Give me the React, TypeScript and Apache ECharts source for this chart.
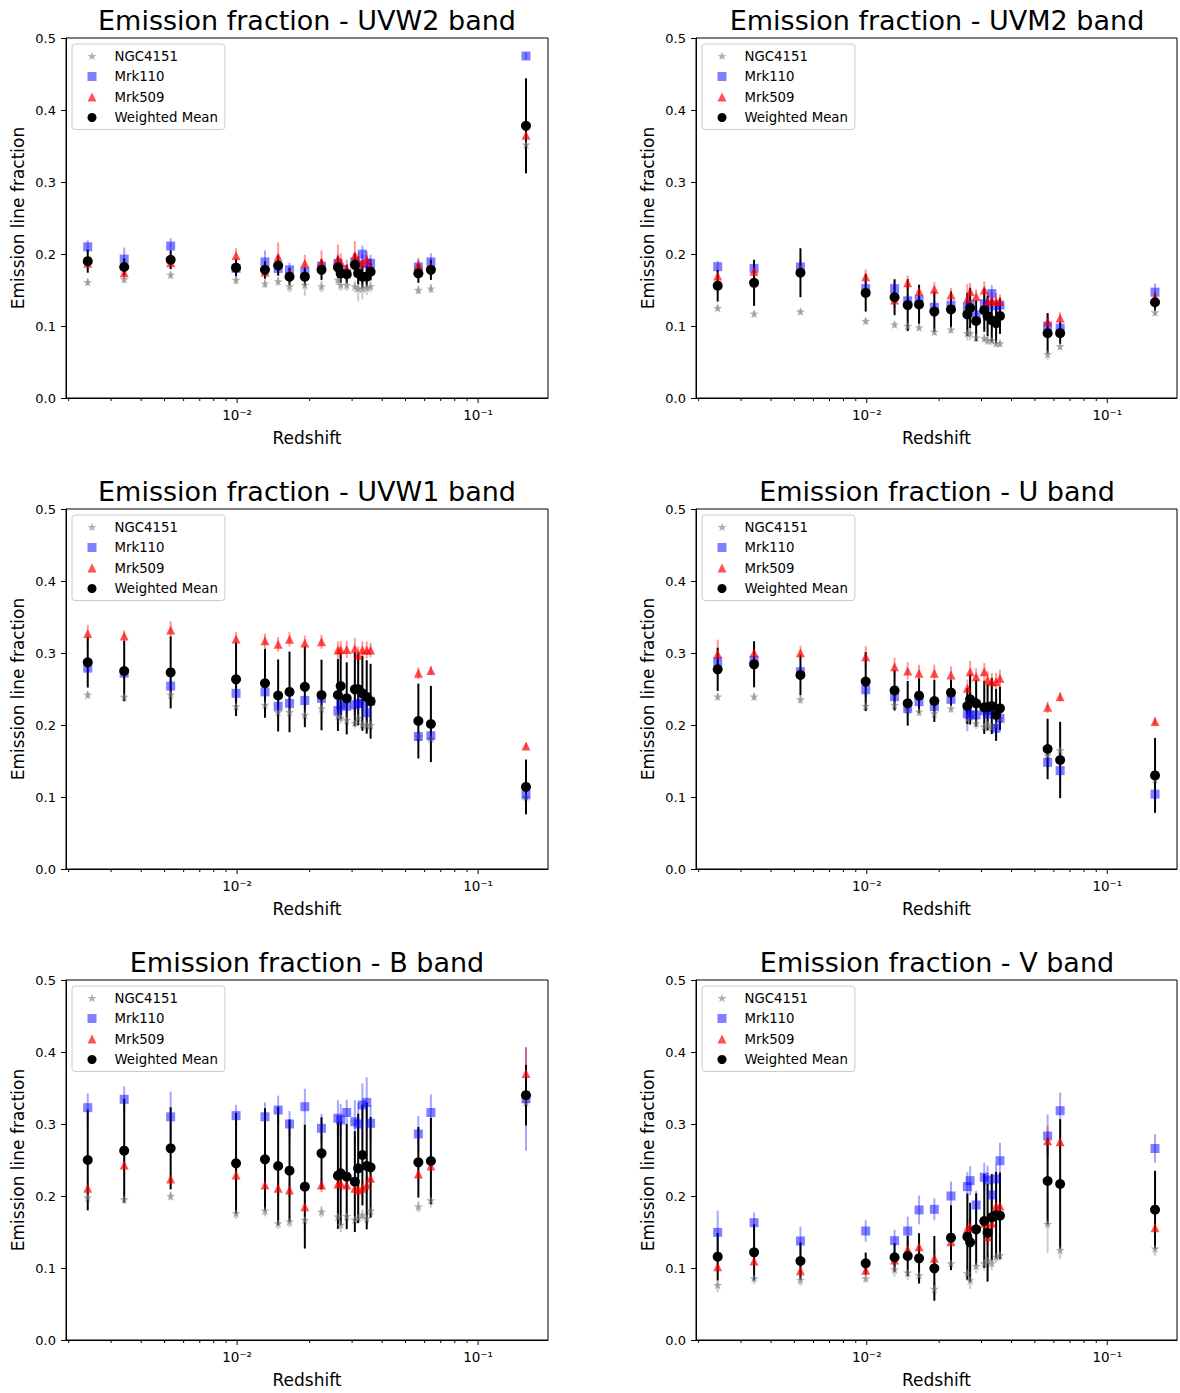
import React, { useEffect, useRef } from "react";
import * as echarts from "echarts";

// ---------- data ----------
const redshift = [0.0024, 0.0034, 0.0053, 0.0099, 0.01305, 0.0148, 0.0165, 0.0191, 0.0224, 0.0262, 0.0269, 0.0285, 0.0308, 0.0318, 0.0331, 0.0345, 0.0358, 0.0565, 0.0637, 0.158];

const bands = ["UVW2", "UVM2", "UVW1", "U", "B", "V"];
const seriesNames = ["NGC4151", "Mrk110", "Mrk509", "Weighted Mean"];

// UVW2
const ngcUVW2 = [0.161, 0.165, 0.171, 0.164, 0.159, 0.162, 0.155, 0.157, 0.155, 0.164, 0.157, 0.157, 0.155, 0.152, 0.152, 0.153, 0.155, 0.150, 0.152, 0.352];
const ngcErrUVW2 = [0.005, 0.005, 0.005, 0.006, 0.006, 0.006, 0.008, 0.015, 0.008, 0.007, 0.008, 0.008, 0.008, 0.018, 0.015, 0.01, 0.008, 0.006, 0.006, 0.006];
const m110UVW2 = [0.210, 0.193, 0.211, 0.180, 0.189, 0.180, 0.178, 0.1755, 0.183, 0.187, 0.178, 0.173, 0.189, 0.185, 0.1998, 0.187, 0.187, 0.182, 0.189, 0.475];
const m110ErrUVW2 = [0.009, 0.016, 0.011, 0.01, 0.016, 0.01, 0.01, 0.01, 0.01, 0.012, 0.01, 0.012, 0.012, 0.012, 0.012, 0.012, 0.012, 0.01, 0.012, 0.005];
const m509UVW2 = [0.187, 0.174, 0.188, 0.198, 0.175, 0.196, 0.172, 0.187, 0.189, 0.193, 0.189, 0.180, 0.198, 0.190, 0.187, 0.192, 0.182, 0.185, 0.182, 0.365];
const m509ErrUVW2 = [0.005, 0.008, 0.008, 0.01, 0.01, 0.02, 0.01, 0.012, 0.016, 0.02, 0.012, 0.012, 0.02, 0.012, 0.012, 0.012, 0.012, 0.01, 0.01, 0.005];
const meanUVW2 = [0.190, 0.182, 0.192, 0.181, 0.178, 0.184, 0.1685, 0.1685, 0.178, 0.1815, 0.173, 0.172, 0.185, 0.173, 0.1685, 0.1685, 0.1755, 0.173, 0.178, 0.378];
const meanErrUVW2 = [0.016, 0.012, 0.013, 0.012, 0.012, 0.014, 0.012, 0.012, 0.014, 0.015, 0.013, 0.013, 0.016, 0.015, 0.016, 0.014, 0.012, 0.013, 0.014, 0.066];

// UVM2
const ngcUVM2 = [0.125, 0.117, 0.120, 0.107, 0.102, 0.100, 0.098, 0.092, 0.095, 0.090, 0.090, 0.084, 0.083, 0.080, 0.080, 0.076, 0.076, 0.061, 0.072, 0.119];
const ngcErrUVM2 = [0.004, 0.004, 0.004, 0.004, 0.004, 0.004, 0.004, 0.005, 0.005, 0.01, 0.01, 0.006, 0.006, 0.006, 0.006, 0.005, 0.005, 0.008, 0.006, 0.005];
const m110UVM2 = [0.1824, 0.180, 0.182, 0.152, 0.152, 0.135, 0.136, 0.126, 0.129, 0.126, 0.130, 0.115, 0.131, 0.128, 0.145, 0.128, 0.129, 0.100, 0.097, 0.147];
const m110ErrUVM2 = [0.008, 0.01, 0.01, 0.01, 0.01, 0.008, 0.01, 0.01, 0.01, 0.01, 0.01, 0.01, 0.01, 0.01, 0.012, 0.01, 0.01, 0.012, 0.01, 0.012];
const m509UVM2 = [0.1694, 0.176, 0.178, 0.1685, 0.136, 0.160, 0.148, 0.151, 0.143, 0.138, 0.148, 0.141, 0.150, 0.134, 0.136, 0.134, 0.134, 0.106, 0.111, 0.140];
const m509ErrUVM2 = [0.008, 0.008, 0.01, 0.01, 0.01, 0.01, 0.01, 0.01, 0.01, 0.02, 0.012, 0.01, 0.012, 0.012, 0.012, 0.012, 0.01, 0.01, 0.008, 0.008];
const meanUVM2 = [0.156, 0.160, 0.174, 0.146, 0.140, 0.129, 0.130, 0.120, 0.123, 0.116, 0.125, 0.107, 0.122, 0.114, 0.108, 0.104, 0.114, 0.090, 0.090, 0.133];
const meanErrUVM2 = [0.022, 0.032, 0.034, 0.026, 0.025, 0.036, 0.027, 0.028, 0.025, 0.030, 0.028, 0.028, 0.030, 0.028, 0.030, 0.028, 0.025, 0.028, 0.015, 0.012];

// UVW1
const ngcUVW1 = [0.242, 0.239, 0.242, 0.226, 0.228, 0.218, 0.218, 0.214, 0.223, 0.212, 0.210, 0.207, 0.203, 0.210, 0.201, 0.200, 0.200, 0.184, 0.181, 0.100];
const ngcErrUVW1 = [0.005, 0.005, 0.005, 0.006, 0.006, 0.006, 0.006, 0.006, 0.006, 0.008, 0.008, 0.008, 0.008, 0.008, 0.008, 0.008, 0.008, 0.006, 0.006, 0.005];
const m110UVW1 = [0.279, 0.272, 0.254, 0.244, 0.246, 0.226, 0.230, 0.234, 0.237, 0.220, 0.228, 0.226, 0.228, 0.230, 0.230, 0.217, 0.233, 0.184, 0.185, 0.103];
const m110ErrUVW1 = [0.008, 0.008, 0.01, 0.01, 0.01, 0.01, 0.01, 0.01, 0.01, 0.01, 0.01, 0.01, 0.01, 0.01, 0.01, 0.01, 0.01, 0.008, 0.008, 0.006];
const m509UVW1 = [0.327, 0.3236, 0.332, 0.3194, 0.317, 0.312, 0.319, 0.314, 0.3157, 0.304, 0.305, 0.305, 0.306, 0.297, 0.304, 0.304, 0.304, 0.272, 0.2757, 0.171];
const m509ErrUVW1 = [0.012, 0.008, 0.012, 0.01, 0.01, 0.01, 0.01, 0.01, 0.01, 0.012, 0.012, 0.012, 0.015, 0.012, 0.012, 0.012, 0.01, 0.008, 0.006, 0.004];
const meanUVW1 = [0.287, 0.275, 0.273, 0.2634, 0.258, 0.241, 0.246, 0.253, 0.2417, 0.2417, 0.254, 0.237, 0.2495, 0.2495, 0.244, 0.239, 0.233, 0.2055, 0.2014, 0.114];
const meanErrUVW1 = [0.035, 0.042, 0.05, 0.051, 0.048, 0.05, 0.056, 0.056, 0.049, 0.05, 0.046, 0.05, 0.051, 0.05, 0.052, 0.051, 0.052, 0.052, 0.053, 0.038];

// U
const ngcU = [0.2394, 0.2394, 0.2356, 0.2264, 0.2278, 0.221, 0.2185, 0.216, 0.223, 0.209, 0.2116, 0.2025, 0.198, 0.200, 0.197, 0.200, 0.209, 0.158, 0.165, 0.125];
const ngcErrU = [0.005, 0.005, 0.006, 0.006, 0.006, 0.006, 0.006, 0.006, 0.006, 0.008, 0.008, 0.008, 0.008, 0.008, 0.008, 0.008, 0.008, 0.012, 0.012, 0.006];
const m110U = [0.288, 0.290, 0.274, 0.249, 0.2394, 0.223, 0.2324, 0.2255, 0.2356, 0.2162, 0.2139, 0.214, 0.220, 0.215, 0.220, 0.1954, 0.2093, 0.1481, 0.1366, 0.104];
const m110ErrU = [0.008, 0.008, 0.008, 0.01, 0.01, 0.01, 0.01, 0.01, 0.01, 0.025, 0.012, 0.012, 0.01, 0.01, 0.01, 0.012, 0.01, 0.01, 0.01, 0.006];
const m509U = [0.2986, 0.3005, 0.3005, 0.2949, 0.281, 0.275, 0.2718, 0.2718, 0.2694, 0.251, 0.274, 0.2671, 0.274, 0.2625, 0.2602, 0.2602, 0.2648, 0.2245, 0.2394, 0.205];
const m509ErrU = [0.02, 0.01, 0.01, 0.015, 0.012, 0.012, 0.012, 0.012, 0.012, 0.012, 0.015, 0.012, 0.012, 0.012, 0.012, 0.012, 0.012, 0.008, 0.006, 0.006];
const meanU = [0.2773, 0.2843, 0.2694, 0.2603, 0.248, 0.2301, 0.2407, 0.2333, 0.245, 0.2264, 0.2356, 0.2301, 0.2245, 0.2245, 0.2264, 0.2139, 0.2231, 0.1667, 0.1514, 0.130];
const meanErrU = [0.03, 0.032, 0.028, 0.041, 0.028, 0.031, 0.024, 0.029, 0.018, 0.025, 0.035, 0.032, 0.037, 0.032, 0.039, 0.036, 0.03, 0.042, 0.053, 0.052];

// B
const ngcB = [0.198, 0.1954, 0.200, 0.176, 0.1796, 0.162, 0.1644, 0.1667, 0.1782, 0.1713, 0.160, 0.172, 0.167, 0.170, 0.1736, 0.169, 0.1796, 0.1852, 0.194, 0.330];
const ngcErrB = [0.008, 0.006, 0.006, 0.008, 0.008, 0.008, 0.008, 0.008, 0.008, 0.01, 0.01, 0.008, 0.008, 0.008, 0.008, 0.008, 0.008, 0.008, 0.01, 0.01];
const m110B = [0.3227, 0.3343, 0.310, 0.3116, 0.310, 0.3194, 0.300, 0.324, 0.294, 0.308, 0.3056, 0.316, 0.3032, 0.300, 0.3264, 0.330, 0.301, 0.2861, 0.316, 0.335];
const m110ErrB = [0.02, 0.018, 0.035, 0.015, 0.02, 0.02, 0.018, 0.025, 0.02, 0.025, 0.022, 0.018, 0.03, 0.03, 0.03, 0.035, 0.025, 0.025, 0.025, 0.072];
const m509B = [0.2106, 0.243, 0.2236, 0.2292, 0.2153, 0.2106, 0.2083, 0.1852, 0.2153, 0.2167, 0.2176, 0.2153, 0.2106, 0.2083, 0.2106, 0.2153, 0.2245, 0.2306, 0.2417, 0.370];
const m509ErrB = [0.008, 0.008, 0.01, 0.01, 0.01, 0.01, 0.01, 0.01, 0.01, 0.01, 0.01, 0.01, 0.012, 0.012, 0.012, 0.012, 0.012, 0.01, 0.01, 0.035];
const meanB = [0.250, 0.263, 0.2662, 0.2454, 0.2509, 0.2417, 0.2352, 0.213, 0.2593, 0.2282, 0.2315, 0.2269, 0.2199, 0.2384, 0.2569, 0.2417, 0.2398, 0.2468, 0.2486, 0.340];
const meanErrB = [0.07, 0.072, 0.057, 0.07, 0.071, 0.082, 0.071, 0.086, 0.05, 0.074, 0.072, 0.073, 0.07, 0.076, 0.07, 0.088, 0.07, 0.049, 0.06, 0.042];

// V
const ngcV = [0.0764, 0.0856, 0.0833, 0.0856, 0.098, 0.0935, 0.090, 0.071, 0.1065, 0.0926, 0.083, 0.1028, 0.1065, 0.110, 0.107, 0.1157, 0.118, 0.161, 0.125, 0.127];
const ngcErrV = [0.01, 0.008, 0.008, 0.006, 0.01, 0.01, 0.01, 0.01, 0.008, 0.01, 0.012, 0.01, 0.01, 0.01, 0.01, 0.008, 0.008, 0.04, 0.012, 0.01];
const m110V = [0.1495, 0.163, 0.1375, 0.1514, 0.138, 0.1514, 0.1806, 0.1815, 0.200, 0.213, 0.2213, 0.1875, 0.226, 0.2222, 0.2014, 0.2236, 0.249, 0.2833, 0.3185, 0.266];
const m110ErrV = [0.03, 0.014, 0.02, 0.015, 0.015, 0.02, 0.02, 0.015, 0.02, 0.02, 0.02, 0.02, 0.02, 0.02, 0.02, 0.02, 0.025, 0.03, 0.025, 0.02];
const m509V = [0.1019, 0.1097, 0.0963, 0.097, 0.111, 0.126, 0.1296, 0.1134, 0.1366, 0.1546, 0.157, 0.155, 0.162, 0.1435, 0.162, 0.1861, 0.186, 0.2769, 0.2755, 0.156];
const m509ErrV = [0.008, 0.01, 0.008, 0.008, 0.01, 0.01, 0.01, 0.01, 0.01, 0.012, 0.012, 0.012, 0.012, 0.012, 0.012, 0.012, 0.012, 0.02, 0.015, 0.01];
const meanV = [0.1157, 0.1218, 0.1097, 0.1065, 0.1148, 0.1167, 0.1134, 0.0995, 0.1421, 0.1435, 0.1356, 0.1537, 0.1653, 0.149, 0.1704, 0.1736, 0.1727, 0.2208, 0.2167, 0.181];
const meanErrV = [0.033, 0.039, 0.026, 0.015, 0.02, 0.028, 0.035, 0.045, 0.045, 0.06, 0.055, 0.05, 0.065, 0.068, 0.06, 0.06, 0.06, 0.06, 0.09, 0.054];

const xMajorTicks = [0.01, 0.1];
const xMinorTicks = [0.002, 0.003, 0.004, 0.005, 0.006, 0.007, 0.008, 0.009, 0.02, 0.03, 0.04, 0.05, 0.06, 0.07, 0.08, 0.09];
const xMin = Math.pow(10, -2.71);
const xMax = Math.pow(10, -0.71);

const panels = [
  { ngc: ngcUVW2, ngcErr: ngcErrUVW2, m110: m110UVW2, m110Err: m110ErrUVW2, m509: m509UVW2, m509Err: m509ErrUVW2, mean: meanUVW2, meanErr: meanErrUVW2 },
  { ngc: ngcUVM2, ngcErr: ngcErrUVM2, m110: m110UVM2, m110Err: m110ErrUVM2, m509: m509UVM2, m509Err: m509ErrUVM2, mean: meanUVM2, meanErr: meanErrUVM2 },
  { ngc: ngcUVW1, ngcErr: ngcErrUVW1, m110: m110UVW1, m110Err: m110ErrUVW1, m509: m509UVW1, m509Err: m509ErrUVW1, mean: meanUVW1, meanErr: meanErrUVW1 },
  { ngc: ngcU, ngcErr: ngcErrU, m110: m110U, m110Err: m110ErrU, m509: m509U, m509Err: m509ErrU, mean: meanU, meanErr: meanErrU },
  { ngc: ngcB, ngcErr: ngcErrB, m110: m110B, m110Err: m110ErrB, m509: m509B, m509Err: m509ErrB, mean: meanB, meanErr: meanErrB },
  { ngc: ngcV, ngcErr: ngcErrV, m110: m110V, m110Err: m110ErrV, m509: m509V, m509Err: m509ErrV, mean: meanV, meanErr: meanErrV },
];

// ---------- layout / style ----------
const FONT = "DejaVu Sans";
const colLeft = [66, 696];
const rowTop = [38, 509, 980];
const PW = 482;
const PH = 360;
const STAR = "path://M0,-10 L2.35,-3.24 L9.51,-3.09 L3.8,1.24 L5.88,8.09 L0,4 L-5.88,8.09 L-3.8,1.24 L-9.51,-3.09 L-2.35,-3.24 Z";

const styles = [
  { symbol: STAR, size: 9, color: "rgba(128,128,128,0.62)", err: "rgba(128,128,128,0.4)", errW: 2 },
  { symbol: "rect", size: 9, color: "rgba(0,0,255,0.5)", err: "rgba(0,0,255,0.35)", errW: 2 },
  { symbol: "triangle", size: 9, color: "rgba(255,0,0,0.68)", err: "rgba(255,0,0,0.4)", errW: 2 },
  { symbol: "circle", size: 10, color: "#000000", err: "#000000", errW: 2 },
];

const supMap: Record<string, string> = { "-": "\u207B", "0": "\u2070", "1": "\u00B9", "2": "\u00B2", "3": "\u00B3" };
function logLabel(v: number): string {
  const e = Math.log10(v);
  if (Math.abs(e - Math.round(e)) > 1e-6) return "";
  const s = String(Math.round(e)).split("").map((c) => supMap[c] || c).join("");
  return "10" + s;
}

function buildOption() {
  const grid: any[] = [];
  const xAxis: any[] = [];
  const yAxis: any[] = [];
  const legend: any[] = [];
  const series: any[] = [];
  const graphic: any[] = [];

  panels.forEach((p, i) => {
    const left = colLeft[i % 2];
    const top = rowTop[Math.floor(i / 2)];
    grid.push({ left, top, width: PW, height: PH, show: true, borderColor: "#000", borderWidth: 1, backgroundColor: "transparent" });
    xAxis.push({
      type: "log", logBase: 10, gridIndex: i, min: xMin, max: xMax,
      axisLine: { show: true, lineStyle: { color: "#000", width: 1 } },
      axisTick: { show: false },
      splitLine: { show: false },
      minorTick: { show: false },
      axisLabel: { formatter: logLabel, color: "#000", fontSize: 13.5, fontFamily: FONT, margin: 10, showMinLabel: true, showMaxLabel: true },
      name: "Redshift", nameLocation: "middle", nameGap: 31,
      nameTextStyle: { fontSize: 17, fontFamily: FONT, color: "#000" },
    });
    yAxis.push({
      type: "value", gridIndex: i, min: 0, max: 0.5, interval: 0.1,
      axisLine: { show: true, lineStyle: { color: "#000", width: 1 } },
      axisTick: { show: true, length: 5, lineStyle: { color: "#000", width: 1 } },
      splitLine: { show: false },
      axisLabel: { formatter: (v: number) => v.toFixed(1), color: "#000", fontSize: 13, fontFamily: FONT, margin: 10 },
      name: "Emission line fraction", nameLocation: "middle", nameGap: 40, nameRotate: 90,
      nameTextStyle: { fontSize: 17, fontFamily: FONT, color: "#000" },
    });
    legend.push({
      orient: "vertical", left: left + 6, top: top + 6,
      data: seriesNames,
      selectedMode: false,
      itemWidth: 9, itemHeight: 9, itemGap: 6.5,
      padding: [5, 7, 5, 15.5],
      backgroundColor: "rgba(255,255,255,0.8)",
      borderColor: "#cccccc", borderWidth: 1, borderRadius: 3,
      textStyle: { fontSize: 13.3, fontFamily: FONT, color: "#000", lineHeight: 14, padding: [0, 0, 0, 13] },
    });
    graphic.push({
      type: "text", x: left + PW / 2, y: top - 18,
      style: { text: "Emission fraction - " + bands[i] + " band", fontSize: 27, fontFamily: FONT, fill: "#000", textAlign: "center", textVerticalAlign: "middle" },
    });

    // ticks on the log x-axis (major and minor), outward
    [[xMajorTicks, 5], [xMinorTicks, 3]].forEach(([ticks, len]: any) => {
      series.push({
        type: "custom", xAxisIndex: i, yAxisIndex: i, silent: true, clip: false,
        data: ticks.map((t: number) => [t, 0]),
        encode: { x: 0, y: 1 },
        renderItem: (params: any, api: any) => {
          const c = api.coord([api.value(0), 0]);
          return { type: "line", shape: { x1: c[0], y1: c[1], x2: c[0], y2: c[1] + len }, style: { stroke: "#000", lineWidth: 1 } };
        },
        z: 3,
      });
    });

    const sets = [
      [p.ngc, p.ngcErr],
      [p.m110, p.m110Err],
      [p.m509, p.m509Err],
      [p.mean, p.meanErr],
    ];
    sets.forEach(([vals, errs], k) => {
      const st = styles[k];
      series.push({
        type: "custom", name: "err" + k, xAxisIndex: i, yAxisIndex: i, silent: true, clip: false,
        data: redshift.map((z, j) => [z, vals[j], errs[j]]),
        encode: { x: 0, y: 1 },
        renderItem: (params: any, api: any) => {
          const x = api.value(0), y = api.value(1), e = api.value(2);
          const lo = api.coord([x, y - e]);
          const hi = api.coord([x, y + e]);
          return { type: "line", shape: { x1: lo[0], y1: lo[1], x2: hi[0], y2: hi[1] }, style: { stroke: st.err, lineWidth: st.errW } };
        },
        z: 2,
      });
      series.push({
        type: "scatter", name: seriesNames[k], xAxisIndex: i, yAxisIndex: i,
        symbol: st.symbol, symbolSize: st.size,
        itemStyle: { color: st.color, opacity: 1 },
        data: redshift.map((z, j) => [z, vals[j]]),
        z: 2,
      });
    });
  });

  return {
    animation: false,
    textStyle: { fontFamily: FONT },
    grid, xAxis, yAxis, legend, series, graphic,
  };
}

export default function App() {
  const ref = useRef<HTMLDivElement>(null);
  useEffect(() => {
    if (!ref.current) return;
    const chart = echarts.init(ref.current, undefined, { renderer: "svg" });
    chart.setOption(buildOption() as any);
    return () => chart.dispose();
  }, []);
  return <div ref={ref} style={{ position: "absolute", left: 0, top: 0, width: 1180, height: 1393, background: "#fff" }} />;
}
